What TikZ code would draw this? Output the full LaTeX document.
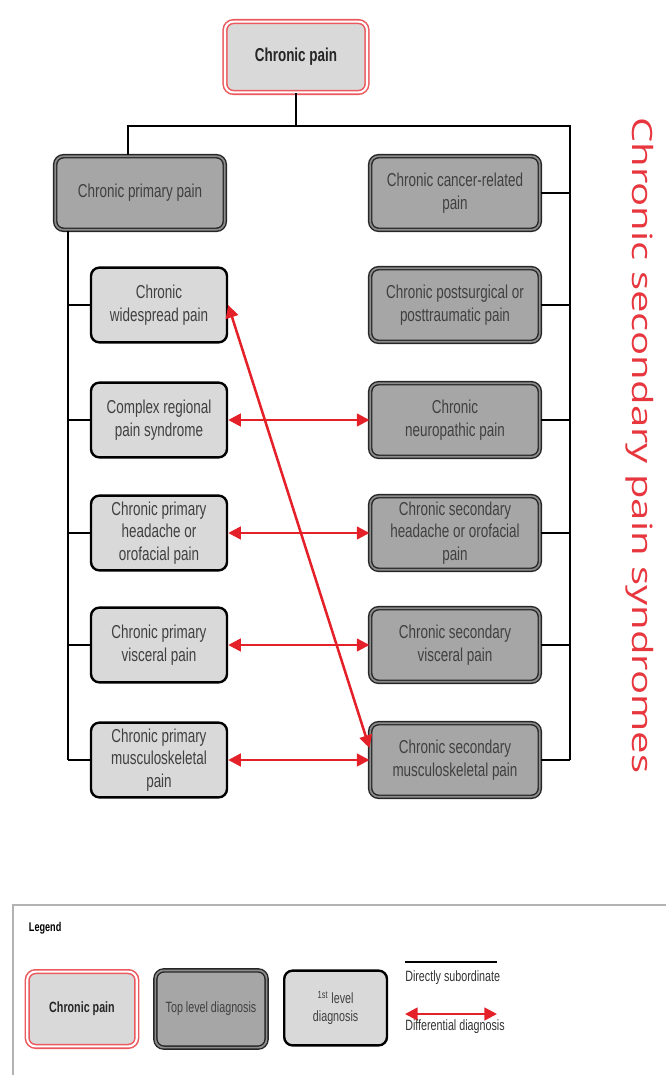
\documentclass[tikz,border=0pt]{standalone}
\usepackage{fontspec}
\setmainfont{Liberation Sans}[FakeStretch=0.72]
\newfontfamily\sidefont{Open Sans}
\usetikzlibrary{arrows.meta}
\definecolor{dxred}{RGB}{228,32,40}

\begin{document}
\begin{tikzpicture}[>={Triangle[length=9pt,width=9pt]},
 font={\fontsize{13.3}{16}\selectfont},
 box/.style={rounded corners=6pt,align=center,text=black!75,inner sep=2pt},
 rootbox/.style={box,fill=gray!30,draw=dxred!75,line width=1.1pt,double=white,double distance=1.5pt,minimum width=3.55cm,minimum height=1.77cm,text=black!85,font={\fontsize{13.3}{16}\selectfont\bfseries}},
 topdx/.style={box,fill=gray!70,draw=black!85,line width=1pt,double=black!45,double distance=1.2pt,minimum width=4.24cm,minimum height=1.84cm},
 firstdx/.style={box,fill=gray!30,draw=black,line width=1.7pt,minimum width=3.4cm,minimum height=1.87cm},
 legtext/.style={font={\fontsize{10.6}{12.6}\selectfont}},
 tree/.style={line width=1.5pt},
 ddx/.style={<->,dxred,line width=1.8pt},
 frame/.style={gray!60,line width=1pt}]
\useasboundingbox (0,0) rectangle (16.65,-26.875);
\node[rootbox] (cp) at (7.4,-1.425) {Chronic pain};
\node[topdx] (primary) at (3.5,-4.825) {Chronic primary pain};
\node[firstdx] (wide) at (3.975,-7.625) {Chronic\\widespread pain};
\node[firstdx] (crps) at (3.975,-10.5) {Complex regional\\pain syndrome};
\node[firstdx] (phead) at (3.975,-13.325) {Chronic primary\\headache or\\orofacial pain};
\node[firstdx] (pvisc) at (3.975,-16.125) {Chronic primary\\visceral pain};
\node[firstdx] (pmsk) at (3.975,-19.0) {Chronic primary\\musculoskeletal\\pain};
\node[topdx] (cancer) at (11.375,-4.825) {Chronic cancer-related\\pain};
\node[topdx] (postsurg) at (11.375,-7.625) {Chronic postsurgical or\\posttraumatic pain};
\node[topdx] (neuro) at (11.375,-10.5) {Chronic\\neuropathic pain};
\node[topdx] (shead) at (11.375,-13.325) {Chronic secondary\\headache or orofacial\\pain};
\node[topdx] (svisc) at (11.375,-16.125) {Chronic secondary\\visceral pain};
\node[topdx] (smsk) at (11.375,-19.0) {Chronic secondary\\musculoskeletal pain};
\coordinate (tl) at (3.2,-3.15);
\coordinate (tr) at (14.25,-3.15);
\coordinate (lt) at (1.7,-3.15);
\draw[tree] (cp.south) -- (cp.south |- tl);
\draw[tree] (tl |- primary.north) -- (tl) -- (tr) -- (tr |- smsk);
\foreach \n in {cancer,postsurg,neuro,shead,svisc,smsk} \draw[tree] (\n.east) -- (\n.east -| tr);
\draw[tree] (lt |- primary.south) -- (lt |- pmsk);
\foreach \n in {wide,crps,phead,pvisc,pmsk} \draw[tree] (\n.west -| lt) -- (\n.west);
\draw[ddx] (crps.east) -- (neuro.west);
\draw[ddx] (phead.east) -- (shead.west);
\draw[ddx] (pvisc.east) -- (svisc.west);
\draw[ddx] (pmsk.east) -- (smsk.west);
\draw[ddx] (wide.east) -- ([yshift=0.3cm]smsk.west);
\node[inner sep=0,rotate=-90,anchor=base west,text=dxred!90,font=\sidefont] (side) at (15.8,-2.925) {\resizebox{16.4cm}{0.53cm}{Chronic secondary pain syndromes}};
\draw[frame] (16.65,-22.625) -| (0.325,-26.875);
\node[anchor=west,font={\fontsize{9}{11}\selectfont\bfseries}] (legend) at (0.6,-23.2) {Legend};
\node[rootbox,minimum width=2.74cm,minimum height=1.87cm,font={\fontsize{10.6}{12.6}\selectfont\bfseries}] (lcp) at (2.05,-25.225) {Chronic pain};
\node[topdx,legtext,minimum width=2.78cm,minimum height=1.93cm] (ltop) at (5.275,-25.225) {Top level diagnosis};
\node[firstdx,legtext,minimum width=2.57cm,minimum height=1.87cm] (lfirst) at (8.39,-25.2) {\textsuperscript{1st} level\\diagnosis};
\coordinate (sa) at (10.125,-24.05);
\coordinate (sb) at (12.425,-24.05);
\draw[tree] (sa) -- (sb);
\node[legtext,anchor=west,inner sep=0,text=black!80] (lsub) at (sa |- 0,-24.45) {Directly subordinate};
\coordinate (da) at (10.125,-25.35);
\coordinate (db) at (12.425,-25.35);
\draw[ddx] (da) -- (db);
\node[legtext,anchor=west,inner sep=0,text=black!80] (ldif) at (da |- 0,-25.675) {Differential diagnosis};
\end{tikzpicture}
\end{document}
